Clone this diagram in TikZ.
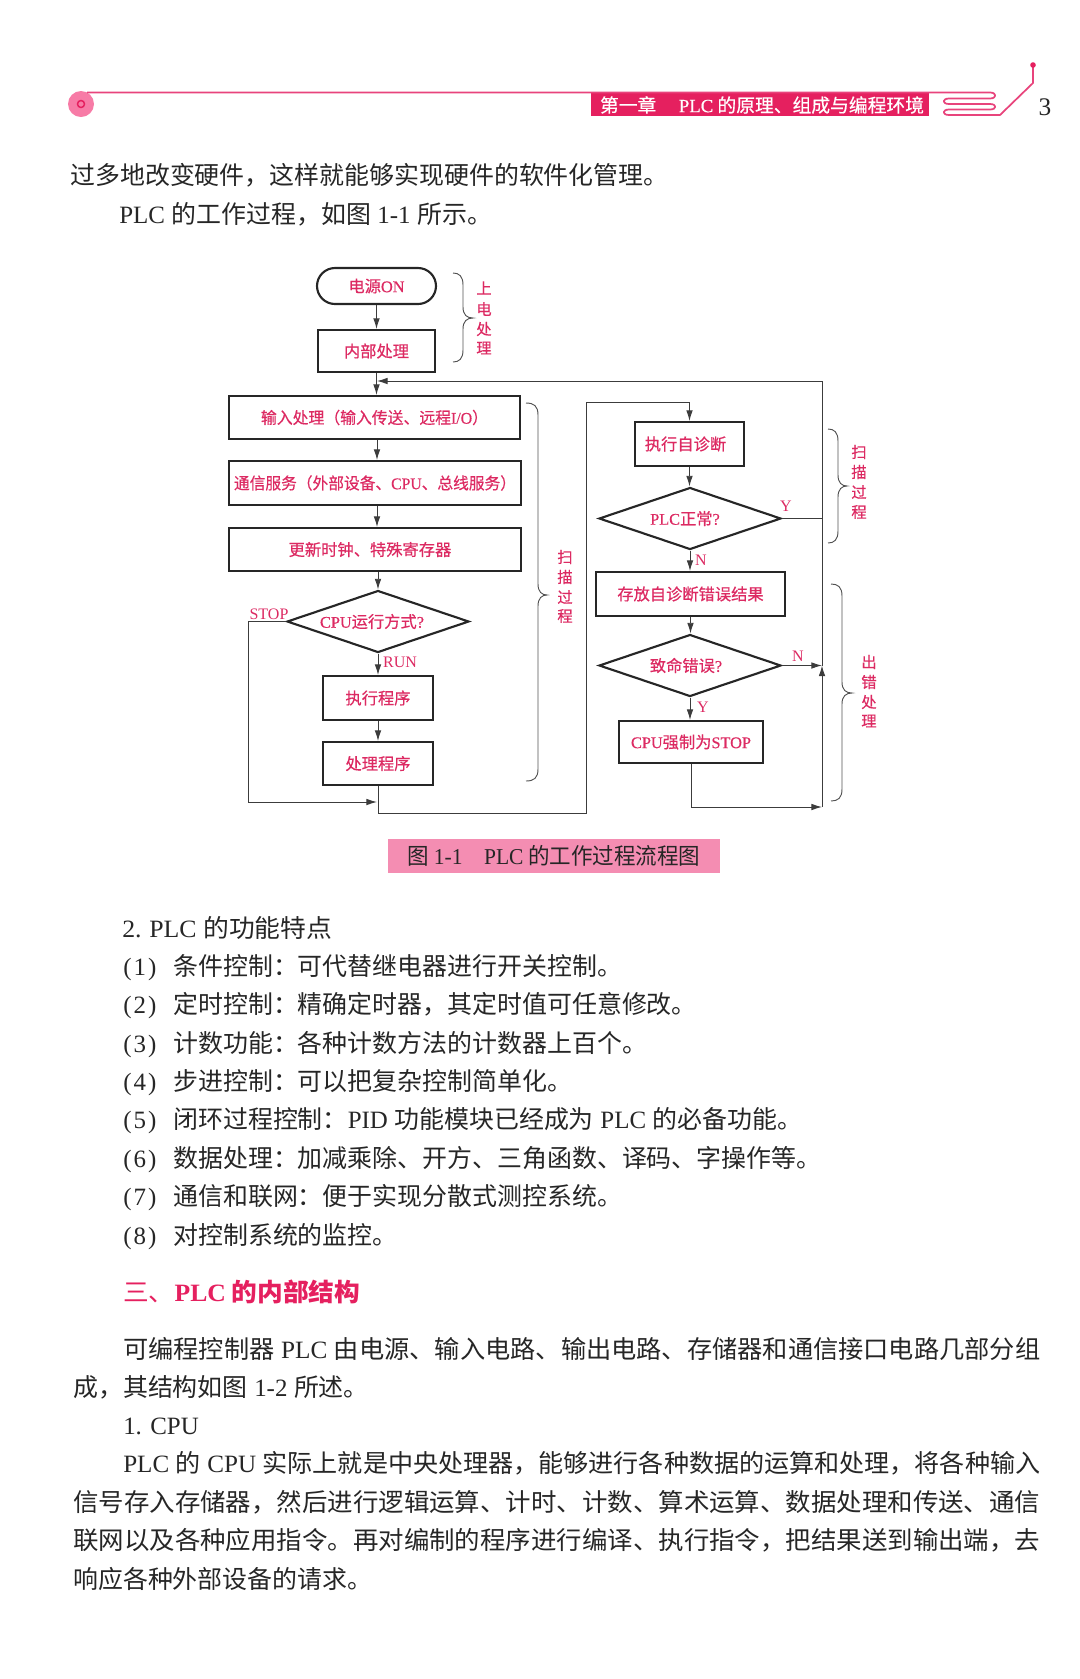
\documentclass[tikz,border=0pt]{standalone}
\usepackage{fontspec}
\usepackage{graphicx}
\usetikzlibrary{arrows.meta,shapes.geometric,calc}
\setmainfont{Noto Sans CJK SC}
\newfontfamily\lfnt{Liberation Serif}
\newfontfamily\boldish[FakeBold=0.5]{Noto Sans CJK SC}
\newfontfamily\lfntb[FakeBold=0.5]{Liberation Serif}
\newcommand\en[1]{{\lfnt #1}}
\newcommand\gp{\hspace{0.26em}}
\newdimen\pxu \pxu=0.75pt
\newcommand\fit[2]{\resizebox{#1\pxu}{\height}{#2}}
\newcommand\li[2]{\makebox[50\pxu][l]{\en{(\kern1.5pt #1\kern1.5pt)}}#2}
\newcommand\off[1]{\kern#1\pxu}
\definecolor{redtxt}{HTML}{DC2A62}
\definecolor{band}{HTML}{E5205F}
\definecolor{ink}{HTML}{262626}
\definecolor{wire}{HTML}{3C3C3C}
\definecolor{capfill}{HTML}{F48DB2}
\definecolor{headln}{HTML}{E8447C}
\definecolor{discfill}{HTML}{F77BA6}
\tikzset{
  labelfont/.style={font=\boldish\let\lfnt\lfntb\fontsize{#1}{14}\selectfont},
  boxnode/.style 2 args={draw=ink,line width=1.6pt,minimum width=#1*0.75pt,minimum height=#2*0.75pt,inner sep=0pt,text=redtxt,labelfont=12.2},
  decide/.style={shape=diamond,draw=ink,line width=1.6pt,minimum width=182*0.75pt,minimum height=62*0.75pt,inner sep=0pt,aspect=3,text=redtxt,labelfont=12.2},
  link/.style={draw=wire,line width=0.72pt},
  tip/.style={-{Latex[length=8pt,width=5pt]}},
  flag/.style={text=redtxt,inner sep=0pt,font=\fontsize{12}{14}\selectfont},
  sidelabel/.style={text=redtxt,inner sep=0pt,labelfont=11.5},
  bracket/.style={draw=ink!80,line width=0.7pt},
  body/.style={anchor=base west,inner sep=0pt,text=ink,font=\fontsize{18.7}{22}\selectfont},
}
\newcommand\pbrace[6]{% x0, spine, tip, ytop, ymid, ybot
  \draw[bracket] (#1,#4) .. controls (#2-4,#4) and (#2,#4+3) .. (#2,#4+12) -- (#2,#5-11)
    .. controls (#2,#5-3) and (#2+4,#5) .. (#3,#5) .. controls (#2+4,#5) and (#2,#5+3) .. (#2,#5+11)
    -- (#2,#6-12) .. controls (#2,#6-3) and (#2-4,#6) .. (#1,#6);}
\begin{document}
\begin{tikzpicture}[x=0.75pt,y=-0.75pt]
\useasboundingbox (0,0) rectangle (1080,1679);
% ---------- running head
\fill[discfill] (81,104) circle (13);
\draw[draw=band,line width=1.1pt] (81,104) circle (3.5);
\fill[band] (591,92) rectangle (929,116);
\draw[headln,line width=1.3pt,line join=round]
  (87,92.5) -- (990,92.5) .. controls (997,92.5) and (997,98.5) .. (990,98.5) -- (949,98.5)
  .. controls (942,98.5) and (942,104) .. (949,104) -- (990,104)
  .. controls (997,104) and (997,109.5) .. (990,109.5) -- (949,109.5)
  .. controls (942,109.5) and (942,115) .. (949,115) -- (1000,115) -- (1033,83) -- (1033,65);
\fill[band] (1033,65) circle (2.8);
\node[inner sep=0pt,text=white,font=\boldish\let\lfnt\lfntb\fontsize{14}{16}\selectfont] (headtext) at (762,105)
  {\fit{324}{第一章\hspace{1.2em}\en{PLC} 的原理、组成与编程环境}};
\node[inner sep=0pt,text=ink,font=\lfnt\fontsize{19}{22}\selectfont] (pageno) at (1045,107) {3};
% ---------- opening text
\node[body] (t1) at (70,184) {过多地改变硬件，这样就能够实现硬件的软件化管理。};
\node[body] (t2) at (119,223) {\en{PLC}\gp 的工作过程，如图\gp\en{1-1}\gp 所示。};
% ---------- flow chart, left column
\node[boxnode={119}{36},rounded corners=13.5pt] (power) at (376.5,286) {电源\en{ON}};
\node[boxnode={117}{42}] (inner) at (376.5,351) {内部处理};
\coordinate (trunk) at (377,381);
\node[boxnode={291}{43}] (input) at (374.5,417.5) {\fit{227}{输入处理（输入传送、远程\en{I/O}）}};
\node[boxnode={292}{44}] (comm) at (375,483) {\fit{282}{通信服务（外部设备、\en{CPU}、总线服务）}};
\node[boxnode={292}{43}] (clock) at (375,549.5) {\off{-10}更新时钟、特殊寄存器};
\node[decide] (mode) at (378,621.5) {\off{-12}\en{CPU}运行方式\en{?}};
\node[boxnode={110}{44}] (run) at (378,698) {执行程序};
\node[boxnode={110}{43}] (proc) at (378,763.5) {处理程序};
% ---------- flow chart, right column
\node[boxnode={109}{44}] (diag) at (689.5,444) {\off{-8}执行自诊断};
\node[decide] (plc) at (690,518.5) {\off{-10}\en{PLC}正常\en{?}};
\node[boxnode={189}{44}] (save) at (690.5,594) {存放自诊断错误结果};
\node[decide] (fatal) at (690,665.5) {\off{-8}致命错误\en{?}};
\node[boxnode={144}{42}] (force) at (691,742) {\en{CPU}强制为\en{STOP}};
% ---------- helper corners
\coordinate (stopturn) at (248,802);
\coordinate (merge) at (377,802);
\coordinate (low) at (586,813);
\coordinate (high) at (586,402);
\coordinate (railtop) at (822,381);
\coordinate (join) at (822,665.5);
\coordinate (railbot) at (822,807);
% ---------- connectors
\draw[link,tip] (power.south) -- (inner.north);
\draw[link,tip] (inner.south) -- (inner.south |- input.north);
\draw[link,tip] (trunk |- input.south) -- (trunk |- comm.north);
\draw[link,tip] (trunk |- comm.south) -- (trunk |- clock.north);
\draw[link,tip] (mode.north |- clock.south) -- (mode.north);
\draw[link,tip] (mode.south) -- (run.north);
\draw[link,tip] (run.south) -- (proc.north);
\draw[link,tip] (mode.west) -| (stopturn) -- (merge);
\draw[link,tip] (proc.south) |- (low) -- (high) -| (diag.north);
\draw[link,tip] (diag.south) -- (diag.south |- plc.north);
\draw[link,tip] (plc.south) -- (plc.south |- save.north);
\draw[link,tip] (save.south) -- (save.south |- fatal.north);
\draw[link,tip] (fatal.south) -- (fatal.south |- force.north);
\draw[link] (plc.east) -- (railtop |- plc.east);
\draw[link,tip] (fatal.east) -- (join);
\draw[link,tip] (force.south) |- (railbot);
\draw[link,tip] (railbot) -- (join);
\draw[link,tip] (join) -- (railtop) -- (trunk);
% ---------- branch flags
\node[flag] (fstop) at (269,614) {\en{STOP}};
\node[flag] (frun) at (400,662) {\en{RUN}};
\node[flag] (fy1) at (786,506) {\en{Y}};
\node[flag] (fn1) at (701,560) {\en{N}};
\node[flag] (fn2) at (798,656) {\en{N}};
\node[flag] (fy2) at (703,707) {\en{Y}};
% ---------- braces and side labels
\pbrace{453}{463}{473}{273}{318}{362}
\node[sidelabel] (s1a) at (484,288) {上};
\node[sidelabel] (s1b) at (484,309) {电};
\node[sidelabel] (s1c) at (484,329) {处};
\node[sidelabel] (s1d) at (484,348) {理};
\pbrace{526}{538}{547}{403}{595}{781}
\node[sidelabel] (s2a) at (565,557) {扫};
\node[sidelabel] (s2b) at (565,577) {描};
\node[sidelabel] (s2c) at (565,597) {过};
\node[sidelabel] (s2d) at (565,616) {程};
\pbrace{828}{838}{847}{429}{486}{543}
\node[sidelabel] (s3a) at (859,452) {扫};
\node[sidelabel] (s3b) at (859,472) {描};
\node[sidelabel] (s3c) at (859,492) {过};
\node[sidelabel] (s3d) at (859,512) {程};
\pbrace{831}{842}{852}{584}{693}{801}
\node[sidelabel] (s4a) at (869,662) {出};
\node[sidelabel] (s4b) at (869,682) {错};
\node[sidelabel] (s4c) at (869,702) {处};
\node[sidelabel] (s4d) at (869,721) {理};
% ---------- caption
\node[fill=capfill,minimum width=332*0.75pt,minimum height=34*0.75pt,inner sep=0pt,text=ink,font=\fontsize{17}{20}\selectfont] (caption) at (554,856)
  {\fit{293}{图 \en{1-1}\hspace{1em}\en{PLC} 的工作过程流程图}};
% ---------- lower text
\node[body] (u0) at (122,937) {\fit{210}{\en{2.\hspace{0.3em}PLC}\gp 的功能特点}};
\node[body] (u1) at (123,975) {\li{1}{条件控制：可代替继电器进行开关控制。}};
\node[body] (u2) at (123,1013) {\li{2}{定时控制：精确定时器，其定时值可任意修改。}};
\node[body] (u3) at (123,1052) {\li{3}{计数功能：各种计数方法的计数器上百个。}};
\node[body] (u4) at (123,1090) {\li{4}{步进控制：可以把复杂控制简单化。}};
\node[body] (u5) at (123,1128) {\li{5}{闭环过程控制：\en{PID}\gp 功能模块已经成为\gp\en{PLC}\gp 的必备功能。}};
\node[body] (u6) at (123,1167) {\li{6}{数据处理：加减乘除、开方、三角函数、译码、字操作等。}};
\node[body] (u7) at (123,1205) {\li{7}{通信和联网：便于实现分散式测控系统。}};
\node[body] (u8) at (123,1244) {\li{8}{对控制系统的监控。}};
\node[body,text=band] (sec) at (123,1301) {\fit{237}{三、\bfseries\en{PLC} 的内部结构}};
\node[body] (p1) at (123,1358) {\fit{917}{可编程控制器\gp\en{PLC}\gp 由电源、输入电路、输出电路、存储器和通信接口电路几部分组}};
\node[body] (p2) at (73,1396) {成，其结构如图\gp\en{1-2}\gp 所述。};
\node[body] (p3) at (123,1434) {\en{1. CPU}};
\node[body] (p4) at (123,1472) {\fit{917}{\en{PLC}\gp 的\gp\en{CPU}\gp 实际上就是中央处理器，能够进行各种数据的运算和处理，将各种输入}};
\node[body] (p5) at (73,1511) {\fit{967}{信号存入存储器，然后进行逻辑运算、计时、计数、算术运算、数据处理和传送、通信}};
\node[body] (p6) at (73,1549) {\fit{967}{联网以及各种应用指令。再对编制的程序进行编译、执行指令，把结果送到输出端，去}};
\node[body] (p7) at (73,1588) {响应各种外部设备的请求。};
\end{tikzpicture}
\end{document}
